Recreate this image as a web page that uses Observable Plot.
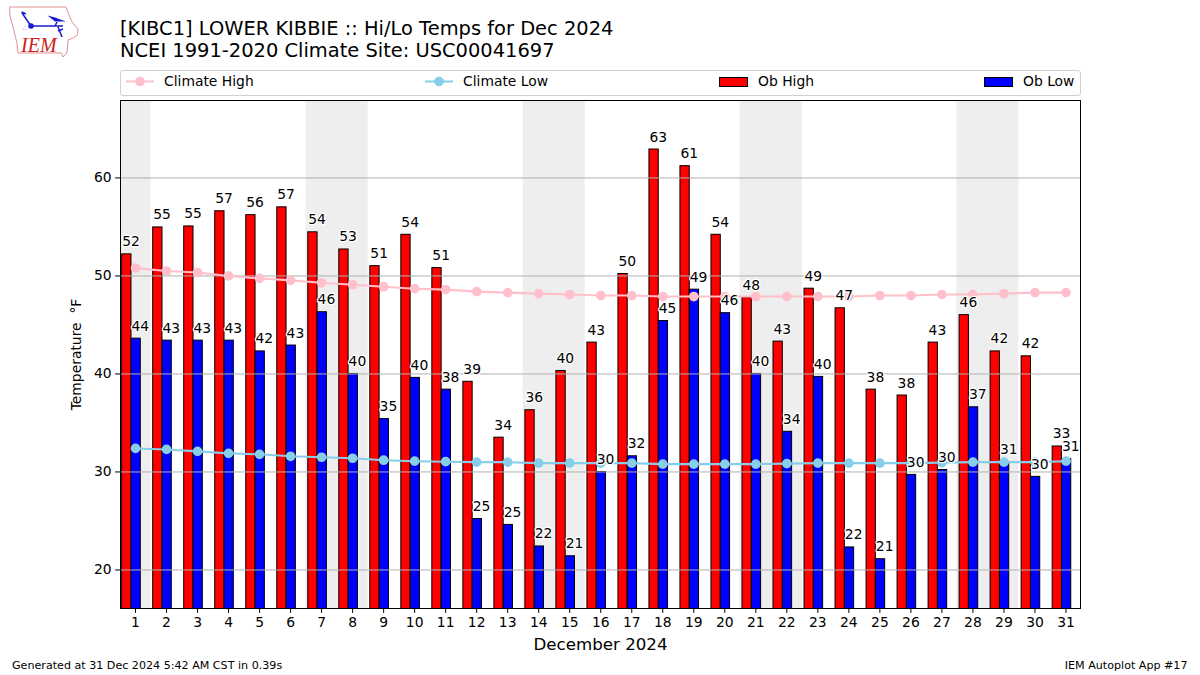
<!DOCTYPE html>
<html>
<head>
<meta charset="utf-8">
<script src="https://cdn.jsdelivr.net/npm/d3@7"></script>
<script src="https://cdn.jsdelivr.net/npm/@observablehq/plot@0.6"></script>
<style>
html,body{margin:0;padding:0;background:#fff;}
body{width:1200px;height:675px;position:relative;overflow:hidden;font-family:"DejaVu Sans",sans-serif;color:#000;}
#chart{position:absolute;left:0;top:0;}
.abs{position:absolute;white-space:nowrap;}
#title{left:120px;top:17.5px;font-size:19.44px;line-height:22px;}
#legend{left:120px;top:69.5px;width:958.5px;height:24px;border:1px solid #d0d0d0;border-radius:3px;background:#fff;font-size:13.89px;}
#legend .it{position:absolute;top:0;height:24px;line-height:21.5px;}
#legend svg{position:absolute;top:0;left:0;overflow:visible;}
#foot1{left:12px;top:659px;font-size:11.11px;line-height:14px;}
#foot2{right:12.5px;top:659px;font-size:11.11px;line-height:14px;}
#logo{left:0;top:0;}
</style>
</head>
<body>
<div id="chart"></div>
<svg id="logo" class="abs" width="90" height="65" viewBox="0 0 90 65">
  <path d="M9.5 7 L66 7 L69 15 L72 22 L78 29 L77.5 35 L73 38 L68 40 L67.5 47 L67 53 L63 57 L61.5 53 L18 53 L17 43 L13 27 L10 16 Z" fill="none" stroke="#e58f8f" stroke-width="1"/>
  <path d="M31 26 L63 26 M57 22 L55 26 M31 26 L22 13 M21.5 12 L26 14 M58 27 L62 37 M58 31 L63 29" fill="none" stroke="#1a1ad0" stroke-width="1.5"/>
  <path d="M47.5 15.5 L55 17.5 L66 21.5 L55 21.5 Z" fill="#1a1ad0"/>
  <circle cx="31" cy="26" r="2.8" fill="#1a1ad0"/>
  <text x="22.5" y="30" font-size="6" fill="#1a1ad0" font-family="DejaVu Sans">∴</text>
  <text x="21" y="52" font-family="Liberation Serif" font-style="italic" font-size="20" fill="#cc2222">IEM</text>
</svg>
<div id="title" class="abs">[KIBC1] LOWER KIBBIE :: Hi/Lo Temps for Dec 2024<br>NCEI 1991-2020 Climate Site: USC00041697</div>
<div id="legend" class="abs">
  <svg width="958" height="24">
    <line x1="5" x2="33" y1="10.5" y2="10.5" stroke="#ffc0cb" stroke-width="2"/><circle cx="19" cy="10.5" r="4.8" fill="#ffc0cb"/>
    <line x1="304" x2="332" y1="10.5" y2="10.5" stroke="#87ceeb" stroke-width="2"/><circle cx="318" cy="10.5" r="4.8" fill="#87ceeb"/>
    <rect x="598.5" y="6.5" width="28" height="9" fill="#ff0000" stroke="#000" stroke-width="1"/>
    <rect x="863.5" y="6.5" width="28" height="9" fill="#0000ff" stroke="#000" stroke-width="1"/>
  </svg>
  <span class="it" style="left:43px">Climate High</span>
  <span class="it" style="left:342px">Climate Low</span>
  <span class="it" style="left:637px">Ob High</span>
  <span class="it" style="left:902px">Ob Low</span>
</div>
<div id="foot1" class="abs">Generated at 31 Dec 2024 5:42 AM CST in 0.39s</div>
<div id="foot2" class="abs">IEM Autoplot App #17</div>
<script>
const days = d3.range(1, 32);
const obHigh = [52.2,54.95,55.05,56.6,56.2,57,54.45,52.7,51,54.2,50.8,39.2,33.5,36.3,40.3,43.2,50.2,62.9,61.2,54.2,47.8,43.3,48.7,46.7,38.4,37.8,43.2,46,42.3,41.8,32.6];
const obLow = [43.6,43.4,43.4,43.4,42.3,42.9,46.3,40,35.4,39.6,38.4,25.2,24.6,22.4,21.4,30,31.6,45.4,48.6,46.2,40,34.1,39.7,22.3,21.1,29.7,30.2,36.6,31,29.5,31.3];
const climHigh = [50.8,50.5,50.35,50,49.75,49.55,49.3,49.1,48.9,48.7,48.6,48.4,48.3,48.2,48.1,48,48,47.9,47.9,47.9,47.9,47.9,47.9,47.9,48,48,48.1,48.1,48.2,48.3,48.3];
const climLow = [32.4,32.3,32.1,31.9,31.8,31.6,31.5,31.4,31.2,31.1,31.05,31,31,30.9,30.9,30.9,30.9,30.8,30.8,30.8,30.8,30.85,30.9,30.9,30.9,30.9,30.95,31,31,31,31.1];
const weekendStart = [0.5, 6.5, 13.5, 20.49, 27.48];
const weekendEnd = [1.5, 8.5, 15.5, 22.5, 29.48];
const yTicks = [20, 30, 40, 50, 60];

const highOffset = [-0.43, -0.13];
const lowOffset = [-0.13, 0.17];
const fs = 13.89;
const fmt = d3.format(".0f");

const chart = Plot.plot({
  width: 1200, height: 675,
  marginLeft: 120, marginRight: 120, marginTop: 100, marginBottom: 67,
  style: {fontFamily: '"DejaVu Sans", sans-serif', fontSize: fs + "px", color: "#000", background: "transparent"},
  x: {domain: [0.516, 31.468], label: null},
  y: {domain: [16.07, 67.9], label: null},
  marks: [
    Plot.rect(weekendStart, {x1: d => d, x2: (d, i) => weekendEnd[i], y1: 16.07, y2: 67.9, fill: "#eeeeee", clip: true}),
    Plot.rect(days, {x1: d => d + highOffset[0], x2: d => d + highOffset[1], y1: 0, y2: (d, i) => obHigh[i], fill: "#ff0000", stroke: "#000", strokeWidth: 1, clip: true, inset: 0}),
    Plot.rect(days, {x1: d => d + lowOffset[0], x2: d => d + lowOffset[1], y1: 0, y2: (d, i) => obLow[i], fill: "#0000ff", stroke: "#000", strokeWidth: 1, clip: true, inset: 0}),
    Plot.ruleY(yTicks, {stroke: "#b0b0b0", strokeWidth: 1}),
    Plot.line(days, {x: d => d, y: (d, i) => climHigh[i], stroke: "#ffc0cb", strokeWidth: 2.1, curve: "linear"}),
    Plot.dot(days, {x: d => d, y: (d, i) => climHigh[i], r: 4.85, fill: "#ffc0cb"}),
    Plot.line(days, {x: d => d, y: (d, i) => climLow[i], stroke: "#87ceeb", strokeWidth: 2.1, curve: "linear"}),
    Plot.dot(days, {x: d => d, y: (d, i) => climLow[i], r: 4.85, fill: "#87ceeb"}),
    Plot.text(days, {x: d => d + highOffset[0], y: (d, i) => obHigh[i], text: (d, i) => fmt(obHigh[i]), textAnchor: "start", lineAnchor: "bottom", dy: -8, fill: "#000", stroke: "#fff", strokeWidth: 2.5, fontSize: fs}),
    Plot.text(days, {x: d => d + lowOffset[0], y: (d, i) => obLow[i], text: (d, i) => fmt(obLow[i]), textAnchor: "start", lineAnchor: "bottom", dy: -8, fill: "#000", stroke: "#fff", strokeWidth: 2.5, fontSize: fs}),
    Plot.frame({stroke: "#000", strokeWidth: 1}),
    Plot.axisX(days, {x: d => d, anchor: "bottom", tickSize: 4.9, tickPadding: 4, tickFormat: d => String(d), label: null, fontSize: fs, stroke: "#000"}),
    Plot.axisY(yTicks, {anchor: "left", tickSize: 4.9, tickPadding: 4, fontSize: fs, label: null, stroke: "#000"}),
    Plot.text(["December 2024"], {frameAnchor: "bottom", dy: 41, fontSize: 16.67, fill: "#000"}),
    Plot.text(["Temperature \u00a0°F"], {frameAnchor: "left", dx: -44, rotate: -90, fontSize: fs, fill: "#000", textAnchor: "middle"})
  ]
});
document.getElementById("chart").appendChild(chart);
</script>
</body>
</html>
